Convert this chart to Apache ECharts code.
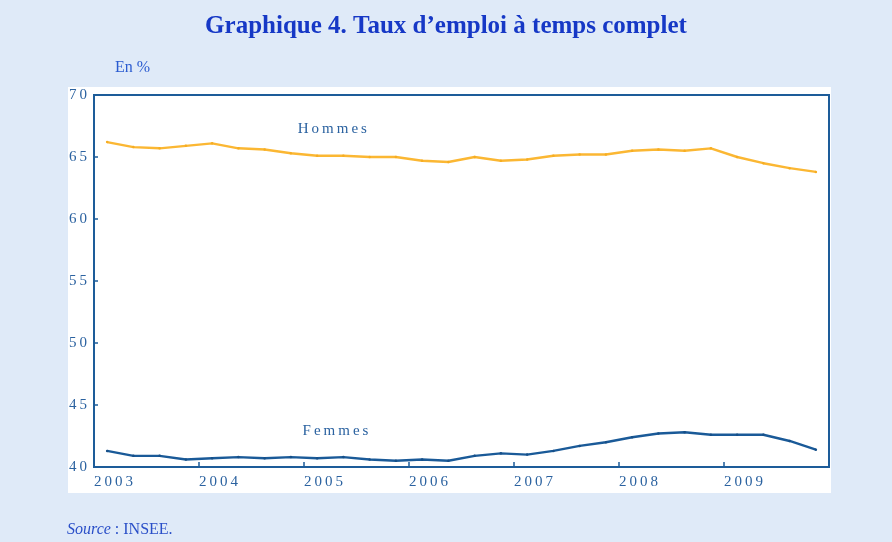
<!DOCTYPE html>
<html>
<head>
<meta charset="utf-8">
<script src="https://cdn.jsdelivr.net/npm/echarts@6/dist/echarts.min.js"></script>
<style>
  html, body { margin: 0; padding: 0; background: #dfeaf8; }
  #chart { width: 892px; height: 542px; }
</style>
</head>
<body>
<div id="chart"></div>
<script>
// trimestres 2003T1 .. 2009T4
var years = [2003, 2004, 2005, 2006, 2007, 2008, 2009];
var quarters = [1, 2, 3, 4];
var hommes = [66.2, 65.8, 65.7, 65.9, 66.1, 65.7, 65.6, 65.3, 65.1, 65.1, 65.0, 65.0, 64.7, 64.6,
              65.0, 64.7, 64.8, 65.1, 65.2, 65.2, 65.5, 65.6, 65.5, 65.7, 65.0, 64.5, 64.1, 63.8];
var femmes = [41.3, 40.9, 40.9, 40.6, 40.7, 40.8, 40.7, 40.8, 40.7, 40.8, 40.6, 40.5, 40.6, 40.5,
              40.9, 41.1, 41.0, 41.3, 41.7, 42.0, 42.4, 42.7, 42.8, 42.6, 42.6, 42.6, 42.1, 41.4];
var yTicks = [40, 45, 50, 55, 60, 65, 70];

var SERIF = '"Liberation Serif", "DejaVu Serif", serif';
var AXIS_BLUE = '#1d5c99';
var LABEL_BLUE = '#2b62a0';

// position of each quarter: middle of the quarter on a year scale
var xs = [];
years.forEach(function (y) {
    quarters.forEach(function (q) { xs.push(y + (q - 0.5) / 4); });
});
function pairs(vals) {
    return vals.map(function (v, i) { return [xs[i], v]; });
}
function spaced(s) {
    return String(s).split('').join('\u2009');
}

var chart = echarts.init(document.getElementById('chart'), null, { renderer: 'canvas' });

var option = {
    backgroundColor: '#dfeaf8',
    animation: false,
    title: [
        {
            text: 'Graphique 4. Taux d\u2019emploi \u00e0 temps complet',
            left: 'center',
            top: 9,
            textStyle: { fontFamily: SERIF, fontWeight: 'bold', fontSize: 25, color: '#1638c6' }
        },
        {
            text: 'En %',
            left: 110,
            top: 55,
            textStyle: { fontFamily: SERIF, fontWeight: 'normal', fontSize: 16, color: '#2a5bd0' }
        },
        {
            text: '{i|Source} : INSEE.',
            left: 62,
            top: 517,
            textStyle: {
                fontFamily: SERIF, fontWeight: 'normal', fontSize: 16, color: '#2a4fc8',
                rich: {
                    i: { fontFamily: SERIF, fontStyle: 'italic', fontSize: 16, color: '#2a4fc8' }
                }
            }
        }
    ],
    graphic: [
        {
            type: 'rect',
            z: -10,
            shape: { x: 68, y: 87, width: 763, height: 406 },
            style: { fill: '#ffffff' }
        }
    ],
    grid: {
        left: 94, right: 63, top: 95, bottom: 75,
        show: true,
        backgroundColor: '#ffffff',
        borderColor: AXIS_BLUE,
        borderWidth: 2
    },
    xAxis: {
        type: 'value',
        min: 2003,
        max: 2010,
        interval: 1,
        axisLine: { show: true, onZero: false, lineStyle: { color: AXIS_BLUE, width: 2 } },
        axisTick: { show: true, inside: true, length: 5, lineStyle: { color: AXIS_BLUE, width: 1.5 } },
        splitLine: { show: false },
        axisLabel: {
            fontFamily: SERIF, fontSize: 15, color: LABEL_BLUE,
            align: 'left', margin: 8,
            formatter: function (v) { return v >= 2010 ? '' : spaced(v); }
        }
    },
    yAxis: {
        type: 'value',
        min: yTicks[0],
        max: yTicks[yTicks.length - 1],
        interval: 5,
        axisLine: { show: true, lineStyle: { color: AXIS_BLUE, width: 2 } },
        axisTick: { show: true, inside: true, length: 4, lineStyle: { color: AXIS_BLUE, width: 1.5 } },
        splitLine: { show: false },
        axisLabel: {
            fontFamily: SERIF, fontSize: 15, color: LABEL_BLUE, margin: 7,
            formatter: function (v) { return spaced(v); }
        }
    },
    series: [
        {
            name: 'Hommes',
            type: 'line',
            data: pairs(hommes),
            symbol: 'circle',
            symbolSize: 2.5,
            lineStyle: { color: '#fbb733', width: 2.4 },
            itemStyle: { color: '#f6ad22' },
            markPoint: {
                symbol: 'circle', symbolSize: 0, silent: true,
                label: {
                    show: true, position: 'inside',
                    fontFamily: SERIF, fontSize: 15, color: LABEL_BLUE,
                    formatter: function () { return spaced('Hommes'); }
                },
                data: [{ coord: [2005.27, 67.25] }]
            }
        },
        {
            name: 'Femmes',
            type: 'line',
            data: pairs(femmes),
            symbol: 'circle',
            symbolSize: 2.5,
            lineStyle: { color: '#1a5a98', width: 2.4 },
            itemStyle: { color: '#164f88' },
            markPoint: {
                symbol: 'circle', symbolSize: 0, silent: true,
                label: {
                    show: true, position: 'inside',
                    fontFamily: SERIF, fontSize: 15, color: LABEL_BLUE,
                    formatter: function () { return spaced('Femmes'); }
                },
                data: [{ coord: [2005.3, 42.9] }]
            }
        }
    ]
};

try {
    chart.setOption(option);
} catch (e) {
    console.warn(e);
}
</script>
</body>
</html>
